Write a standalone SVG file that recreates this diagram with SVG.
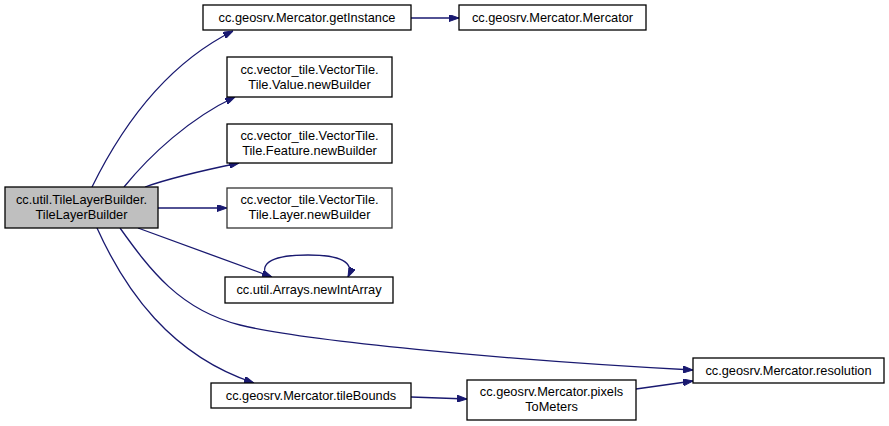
<svg xmlns="http://www.w3.org/2000/svg" width="889" height="426" viewBox="0 0 889 426">
<style>
.n rect{fill:#ffffff;stroke:#000000;stroke-width:1.3}
.n text{font-family:"Liberation Sans",Arial,sans-serif;font-size:12.8px;text-anchor:middle;fill:#000000}
#root rect{fill:#bfbfbf}
.e path{fill:none;stroke:#191970;stroke-width:1.3}
</style>
<defs>
<marker id="ah" viewBox="0 0 10 7" refX="10" refY="3.5" markerWidth="10" markerHeight="7" markerUnits="userSpaceOnUse" orient="auto">
<polygon points="0,0 10,3.5 0,7" fill="#191970" stroke="#191970"/>
</marker>
</defs>
<rect width="889" height="426" fill="#ffffff"/>
<g id="connectors" class="e">
<path d="M92,187 C120,130 165,65 233,31" marker-end="url(#ah)"/>
<path d="M124,187 C150,155 190,118 235,97" marker-end="url(#ah)"/>
<path d="M145,187 C170,178 205,170 239,163" marker-end="url(#ah)"/>
<path d="M158,208 L227,208" marker-end="url(#ah)"/>
<path d="M138,228 L272,277" marker-end="url(#ah)"/>
<path d="M267,277 C258,262 275,255 308,255 C340,255 355,262 348,277" marker-end="url(#ah)"/>
<path d="M120,228 C150,270 180,310 240,325 C300,340 500,360 693,370" marker-end="url(#ah)"/>
<path d="M97,228 C125,290 170,355 254,383" marker-end="url(#ah)"/>
<path d="M411,397 L467,399" marker-end="url(#ah)"/>
<path d="M636,389 L693,381" marker-end="url(#ah)"/>
<path d="M411,18 L459,18" marker-end="url(#ah)"/>
</g>
<g id="root" class="n"><rect x="5" y="187" width="153" height="41"/><text x="81.5" y="204">cc.util.TileLayerBuilder.</text><text x="81.5" y="219">TileLayerBuilder</text></g>
<g id="getInstance" class="n"><rect x="203" y="5" width="208" height="25"/><text x="307" y="22">cc.geosrv.Mercator.getInstance</text></g>
<g id="mercator" class="n"><rect x="459" y="5" width="187" height="25"/><text x="552.5" y="22">cc.geosrv.Mercator.Mercator</text></g>
<g id="valueBuilder" class="n"><rect x="227" y="57" width="165" height="40"/><text x="309.5" y="74">cc.vector_tile.VectorTile.</text><text x="309.5" y="89">Tile.Value.newBuilder</text></g>
<g id="featureBuilder" class="n"><rect x="227" y="124" width="165" height="39"/><text x="309.5" y="140">cc.vector_tile.VectorTile.</text><text x="309.5" y="155">Tile.Feature.newBuilder</text></g>
<g id="layerBuilder" class="n"><rect x="227" y="188" width="165" height="40" style="stroke:#333333"/><text x="309.5" y="204">cc.vector_tile.VectorTile.</text><text x="309.5" y="219">Tile.Layer.newBuilder</text></g>
<g id="newIntArray" class="n"><rect x="225" y="277" width="168" height="26"/><text x="309" y="294">cc.util.Arrays.newIntArray</text></g>
<g id="tileBounds" class="n"><rect x="211" y="383" width="200" height="25"/><text x="311" y="400">cc.geosrv.Mercator.tileBounds</text></g>
<g id="pixelsToMeters" class="n"><rect x="467" y="380" width="169" height="40"/><text x="551.5" y="396">cc.geosrv.Mercator.pixels</text><text x="551.5" y="411">ToMeters</text></g>
<g id="resolution" class="n"><rect x="693" y="358" width="191" height="25"/><text x="788.5" y="375">cc.geosrv.Mercator.resolution</text></g>
</svg>
